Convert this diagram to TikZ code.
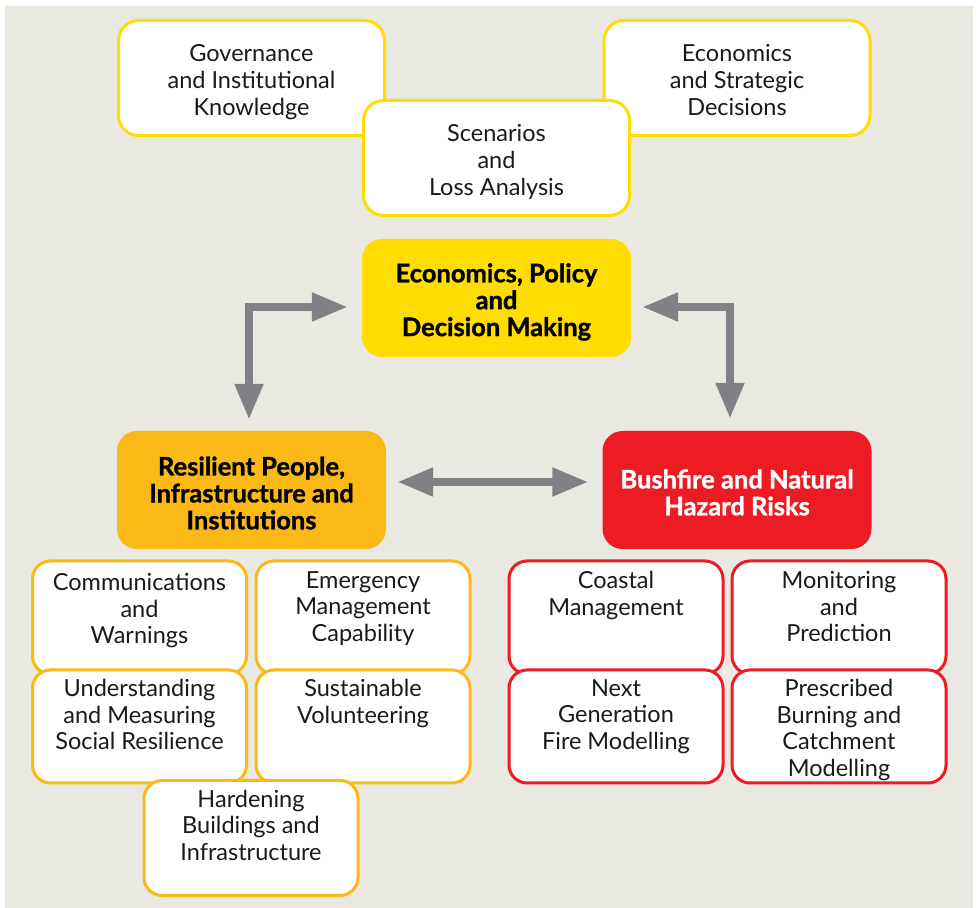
\documentclass[tikz,border=0pt]{standalone}
\usepackage{fontspec}
\setmainfont{Lato}
\newfontfamily\heavyfont{Lato}[BoldFeatures={FakeBold=1.2}]
\usetikzlibrary{arrows.meta}
\definecolor{bgc}{RGB}{234,233,225}
\definecolor{ylw}{RGB}{255,221,0}
\definecolor{org}{RGB}{251,185,23}
\definecolor{rd}{RGB}{237,28,36}
\definecolor{arr}{RGB}{128,129,132}
\definecolor{txt}{RGB}{26,26,26}
\tikzset{
  txtfont/.style={font=\fontsize{23.5}{26.7}\selectfont, text=txt},
  topbox/.style={draw=ylw, line width=3pt, fill=white, rounded corners=20pt,
    minimum width=266pt, minimum height=115pt, inner sep=0pt},
  mainbox/.style={rounded corners=20pt, minimum width=269pt, minimum height=118pt,
    inner sep=0pt},
  smallbox/.style={line width=3pt, fill=white, rounded corners=18pt,
    minimum width=214pt, minimum height=113pt, inner sep=0pt},
  obox/.style={smallbox, draw=org},
  rbox/.style={smallbox, draw=rd},
  ctext/.style={inner sep=0pt, align=center, txtfont},
  btext/.style={inner sep=0pt, align=center, font=\heavyfont\bfseries\fontsize{25.5}{26.9}\selectfont},
  lbl/.style={anchor=north, inner sep=0pt, align=center, txtfont},
  garrow/.style={draw=arr, line width=8pt, line join=miter,
    {Triangle[width=27pt,length=36pt]}-{Triangle[width=27pt,length=36pt]}}
}
\begin{document}
\begin{tikzpicture}[x=1pt,y=1pt]
\useasboundingbox (0,0) rectangle (978,908);
\fill[bgc] (5,0) rectangle (973,902);

% top boxes
\node[topbox] (gov) at (251.5,830) {};
\node[ctext] (govt) at ([yshift=-4pt]gov.center) {Governance\\and Institutional\\Knowledge};
\node[topbox] (est) at (737,830) {};
\node[ctext] (estt) at ([yshift=-2pt]est.center) {Economics\\and Strategic\\Decisions};
\node[topbox] (scn) at (496.5,750) {};
\node[ctext] (scnt) at ([yshift=-4pt]scn.center) {Scenarios\\and\\Loss Analysis};

% main boxes
\node[mainbox, fill=ylw] (ep) at (496.5,610) {};
\node[btext, text=black] (ept) at ([yshift=-4pt]ep.center) {Economics, Policy\\and\\Decision Making};
\node[mainbox, fill=org] (res) at (251.5,418) {};
\node[btext, text=black] (rest) at ([yshift=-3pt]res.center) {Resilient People,\\Infrastructure and\\Institutions};
\node[mainbox, fill=rd] (bush) at (737,418) {};
\node[btext, text=white] (busht) at ([yshift=-2.5pt]bush.center) {Bushfire and Natural\\Hazard Risks};

% arrows
\draw[garrow] ([shift={(-14pt,-9pt)}]ep.west) -| ([shift={(-2.5pt,11pt)}]res.north);
\draw[garrow] ([shift={(11pt,-9pt)}]ep.east) -| ([shift={(-7pt,12pt)}]bush.north);
\draw[garrow] ([shift={(11pt,8pt)}]res.east) -- ([shift={(-14pt,8pt)}]bush.west);

% left small boxes
\node[obox] (com) at (139.5,290.5) {};
\node[lbl] (comt) at ([yshift=-13.5pt]com.north) {Communications\\and\\Warnings};
\node[obox] (emg) at (363,290.5) {};
\node[lbl] (emgt) at ([yshift=-11.5pt]emg.north) {Emergency\\Management\\Capability};
\node[obox] (und) at (139.5,181.5) {};
\node[lbl] (undt) at ([yshift=-10.5pt]und.north) {Understanding\\and Measuring\\Social Resilience};
\node[obox] (sus) at (363,181.5) {};
\node[lbl] (sust) at ([yshift=-10.5pt]sus.north) {Sustainable\\Volunteering};
\node[obox, minimum height=115pt] (hrd) at (251,70) {};
\node[lbl] (hrdt) at ([yshift=-10.5pt]hrd.north) {Hardening\\Buildings and\\Infrastructure};

% right small boxes
\node[rbox] (cst) at (616,290.5) {};
\node[lbl] (cstt) at ([yshift=-11.5pt]cst.north) {Coastal\\Management};
\node[rbox] (mon) at (839,290.5) {};
\node[lbl] (mont) at ([yshift=-11.5pt]mon.north) {Monitoring\\and\\Prediction};
\node[rbox] (nxt) at (616,181.5) {};
\node[lbl] (nxtt) at ([yshift=-10.5pt]nxt.north) {Next\\Generation\\Fire Modelling};
\node[rbox] (prs) at (839,181.5) {};
\node[lbl] (prst) at ([yshift=-10.5pt]prs.north) {Prescribed\\Burning and\\Catchment\\Modelling};
\end{tikzpicture}
\end{document}
